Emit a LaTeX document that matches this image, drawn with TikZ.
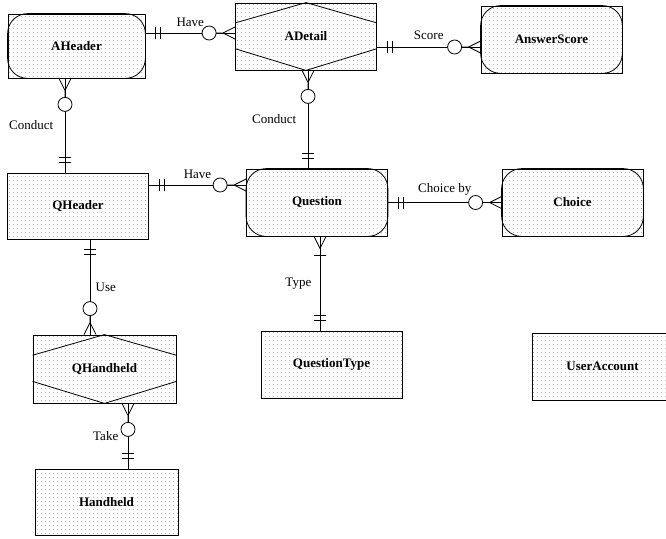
\documentclass[tikz,border=0pt]{standalone}
\usepackage{fontspec}
\setmainfont{Liberation Serif}
\usetikzlibrary{calc,patterns.meta}

\tikzdeclarepattern{name=entdots, type=uncolored,
  bounding box={(0pt,0pt) and (4pt,4pt)}, tile size={(4pt,4pt)},
  code={\fill (2pt,2pt) circle (0.5pt);}}

\tikzset{
  entity/.style={draw, thick, pattern=entdots, pattern color=black!45,
    minimum width=141pt, minimum height=66pt, inner sep=0pt,
    font=\fontsize{13}{15}\selectfont\bfseries},
  rel/.style={font=\fontsize{13}{15}\selectfont},
  onlyone/.pic={\draw[thick] (-10,-6) -- (-10,6) (-15,-6) -- (-15,6);},
  onemany/.pic={\draw[thick] (0,-6) -- (-12,0) -- (0,6) (-19,-6) -- (-19,6);},
  zeromany/.pic={\draw[thick] (0,-6) -- (-12,0) -- (0,6) (-12,0) -- (-19,0);
    \draw[thick, fill=white] (-26,0) circle (7);},
}

\begin{document}
\begin{tikzpicture}[x=1pt, y=-1pt]
    \useasboundingbox (0,0) rectangle (666,538);
    % entities, pixel positions of the scan (y grows downwards)
    \node[entity, minimum width=137pt, minimum height=64pt] (aheader) at (76.5,46) {AHeader};
    \node[entity, minimum height=67pt] (adetail) at (306,36.5) {ADetail};
    \node[entity, minimum height=67pt] (answerscore) at (551.5,39.5) {AnswerScore};
    \node[entity] (qheader) at (78,206) {QHeader};
    \node[entity, minimum height=67pt] (question) at (317,202.5) {Question};
    \node[entity, minimum height=67pt] (choice) at (572.5,202.5) {Choice};
    \node[entity, minimum height=67pt] (questiontype) at (331.5,364.5) {QuestionType};
    \node[entity, minimum height=67pt] (useraccount) at (602.5,366.5) {UserAccount};
    \node[entity, minimum width=143pt, minimum height=68pt] (qhandheld) at (104.5,369) {QHandheld};
    \node[entity, minimum width=143pt] (handheld) at (106.5,502) {Handheld};
    % dependent entities: rounded inner outline
    \foreach \n in {aheader,answerscore,question,choice}
        {\draw[thick, rounded corners=20pt] (\n.north west) rectangle (\n.south east);}
    % associative entities: hexagon
    \foreach \n in {adetail,qhandheld}
        {\draw[thick] ($(\n.north west)!0.3!(\n.south west)$) -- (\n.north)
            -- ($(\n.north east)!0.3!(\n.south east)$)
            ($(\n.north west)!0.68!(\n.south west)$) -- (\n.south)
            -- ($(\n.north east)!0.68!(\n.south east)$);}
    % relationships
    \coordinate (haveA) at ([yshift=3.5pt]adetail.west);
    \draw[thick] (aheader.east |- haveA) -- node[rel, above=3pt] {Have} (haveA);
    \pic[rotate=180] at (aheader.east |- haveA) {onlyone};
    \pic at (haveA) {zeromany};

    \coordinate (scoreA) at ([yshift=-10.5pt]adetail.east);
    \draw[thick] (scoreA) -- node[rel, above=4pt] {Score} (answerscore.west |- scoreA);
    \pic[rotate=180] at (scoreA) {onlyone};
    \pic at (answerscore.west |- scoreA) {zeromany};

    \coordinate (condA) at ([xshift=-11.5pt]aheader.south);
    \draw[thick] (condA) -- node[rel, left=8pt] {Conduct} (qheader.north -| condA);
    \pic[rotate=90] at (condA) {zeromany};
    \pic[rotate=-90] at (qheader.north -| condA) {onlyone};

    \coordinate (condB) at ([xshift=2pt]adetail.south);
    \draw[thick] (condB) -- node[rel, left=8pt] {Conduct} (question.north -| condB);
    \pic[rotate=90] at (condB) {zeromany};
    \pic[rotate=-90] at (question.north -| condB) {onlyone};

    \coordinate (haveQ) at ([yshift=17.5pt]question.west);
    \draw[thick] (qheader.east |- haveQ) -- node[rel, above=3pt] {Have} (haveQ);
    \pic[rotate=180] at (qheader.east |- haveQ) {onlyone};
    \pic at (haveQ) {zeromany};

    \draw[thick] (question.east) -- node[rel, above=3pt] {Choice by} (choice.west);
    \pic[rotate=180] at (question.east) {onlyone};
    \pic at (choice.west) {zeromany};

    \coordinate (typeQ) at ([xshift=3pt]question.south);
    \draw[thick] (typeQ) -- node[rel, left=5pt] {Type} (questiontype.north -| typeQ);
    \pic[rotate=90] at (typeQ) {onemany};
    \pic[rotate=-90] at (questiontype.north -| typeQ) {onlyone};

    \coordinate (useQ) at ([xshift=12pt]qheader.south);
    \draw[thick] (useQ) -- node[rel, right=2pt] {Use} (qhandheld.north -| useQ);
    \pic[rotate=90] at (useQ) {onlyone};
    \pic[rotate=-90] at (qhandheld.north -| useQ) {zeromany};

    \coordinate (takeH) at ([xshift=23.5pt]qhandheld.south);
    \draw[thick] (takeH) -- node[rel, left=6pt] {Take} (handheld.north -| takeH);
    \pic[rotate=90] at (takeH) {zeromany};
    \pic[rotate=-90] at (handheld.north -| takeH) {onlyone};
\end{tikzpicture}
\end{document}
